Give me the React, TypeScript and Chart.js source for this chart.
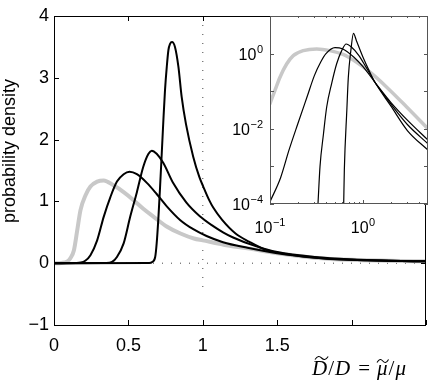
import React, { useEffect, useRef } from 'react';
import { Chart, registerables } from 'chart.js';
Chart.register(...registerables);

// ---------- main plot data (linear axes) ----------
const mainGrayX = [0, 0.05, 0.09, 0.11, 0.134, 0.156, 0.178, 0.212, 0.245, 0.29, 0.334, 0.4, 0.468, 0.535, 0.6, 0.67, 0.76, 0.85, 0.94, 1.0, 1.14, 1.3, 1.5, 1.75, 2.0, 2.25, 2.5];
const mainGrayY = [0, 0.005, 0.03, 0.08, 0.21, 0.53, 0.86, 1.1, 1.24, 1.32, 1.34, 1.26, 1.15, 1.02, 0.88, 0.75, 0.59, 0.48, 0.4, 0.37, 0.3, 0.24, 0.16, 0.09, 0.055, 0.04, 0.03];

const mainC1X = [0, 0.15, 0.18, 0.21, 0.245, 0.29, 0.334, 0.379, 0.423, 0.468, 0.508, 0.557, 0.624, 0.69, 0.758, 0.847, 0.936, 1.025, 1.136, 1.3, 1.5, 1.75, 2.0, 2.25, 2.5];
const mainC1Y = [0, 0.003, 0.01, 0.04, 0.13, 0.37, 0.75, 1.07, 1.32, 1.44, 1.48, 1.44, 1.3, 1.12, 0.92, 0.7, 0.55, 0.44, 0.34, 0.25, 0.16, 0.09, 0.055, 0.04, 0.03];

const mainC2X = [0, 0.35, 0.39, 0.423, 0.468, 0.512, 0.557, 0.6, 0.635, 0.657, 0.69, 0.735, 0.8, 0.89, 0.98, 1.07, 1.136, 1.2, 1.35, 1.5, 1.75, 2.0, 2.25, 2.5];
const mainC2Y = [0, 0.003, 0.02, 0.1, 0.32, 0.75, 1.15, 1.56, 1.77, 1.82, 1.77, 1.62, 1.3, 0.98, 0.76, 0.6, 0.5, 0.42, 0.28, 0.18, 0.1, 0.06, 0.04, 0.03];

const mainC3X = [0, 0.64, 0.66, 0.68, 0.69, 0.702, 0.713, 0.724, 0.735, 0.746, 0.758, 0.769, 0.78, 0.793, 0.813, 0.836, 0.858, 0.887, 0.936, 0.976, 1.003, 1.043, 1.07, 1.13, 1.22, 1.31, 1.42, 1.58, 1.8, 2.0, 2.25, 2.5];
const mainC3Y = [0, 0.003, 0.02, 0.1, 0.32, 0.75, 1.24, 1.77, 2.31, 2.8, 3.18, 3.45, 3.55, 3.58, 3.5, 3.18, 2.69, 2.25, 1.72, 1.4, 1.24, 1.02, 0.9, 0.7, 0.48, 0.35, 0.22, 0.14, 0.08, 0.055, 0.04, 0.03];

const mainXTicks = [0, 0.5, 1, 1.5, 2, 2.5];
const mainXTickLabels = ['0', '0.5', '1', '1.5', '', ''];
const mainYTicks = [-1, 0, 1, 2, 3, 4];
const refVX = [1, 1];
const refVY = [4, -0.5];
const refHX = [0, 2.5];
const refHY = [0, 0];

// ---------- inset data (log-log axes) ----------
const insGrayX = [0.1, 0.113, 0.128, 0.151, 0.178, 0.228, 0.318, 0.44, 0.61, 0.855, 1.19, 1.8, 2.95, 5.0];
const insGrayY = [0.047, 0.105, 0.236, 0.53, 0.885, 1.2, 1.33, 1.2, 0.95, 0.59, 0.32, 0.128, 0.038, 0.01];

const insC1X = [0.1, 0.13, 0.16, 0.2, 0.25, 0.3, 0.35, 0.4, 0.5, 0.6, 0.8, 1.0, 1.35, 2.0, 3.0, 5.0];
const insC1Y = [1.15e-4, 5e-4, 2.7e-3, 0.014, 0.07, 0.26, 0.59, 1.0, 1.45, 1.35, 0.8, 0.45, 0.17, 0.05, 0.017, 0.005];

const insC2X = [0.328, 0.345, 0.376, 0.407, 0.46, 0.52, 0.59, 0.66, 0.75, 0.9, 1.1, 1.35, 2.0, 3.0, 5.0];
const insC2Y = [1e-4, 1e-3, 7.4e-3, 0.038, 0.16, 0.53, 1.2, 1.8, 1.5, 0.9, 0.4, 0.17, 0.045, 0.013, 0.004];

const insC3X = [0.62, 0.63, 0.67, 0.695, 0.74, 0.79, 0.85, 1.0, 1.2, 1.35, 2.0, 3.0, 5.0];
const insC3Y = [1e-4, 8e-4, 0.031, 0.23, 1.2, 3.45, 2.2, 0.8, 0.3, 0.17, 0.04, 0.009, 0.0027];

const insXMajor = [0.1, 1];
const insXMajorExp = ['\u22121', '0'];
const insXMinor = [0.2, 0.3, 0.4, 0.5, 0.6, 0.7, 0.8, 0.9, 2, 3, 4];
const insYMajor = [1e-4, 1e-3, 1e-2, 1e-1, 1e0, 1e1];
const insYLabelled = [1e-4, 1e-2, 1e0];
const insYLabelExp = ['\u22124', '\u22122', '0'];

const GRAY = 'rgb(200,200,200)';
const SANS = '"Liberation Sans", Arial, Helvetica, sans-serif';
const SERIF = '"Liberation Serif", "Times New Roman", serif';
const pts = (xs: number[], ys: number[]) => xs.map((x, i) => ({ x, y: ys[i] }));

const lineDs = (label: string, data: any[], color: string, width: number, order: number, extra: any = {}) => ({
  label,
  data,
  borderColor: color,
  backgroundColor: color,
  borderWidth: width,
  pointRadius: 0,
  fill: false,
  cubicInterpolationMode: 'monotone',
  borderJoinStyle: 'round',
  borderCapStyle: 'round',
  clip: 0,
  order,
  ...extra,
});

const drawTilde = (ctx: CanvasRenderingContext2D, x0: number, x1: number, ym: number) => {
  const w = x1 - x0;
  ctx.beginPath();
  ctx.moveTo(x0, ym + 1.5);
  ctx.bezierCurveTo(x0 + w * 0.2, ym - 2.5, x0 + w * 0.35, ym - 2, x0 + w * 0.5, ym);
  ctx.bezierCurveTo(x0 + w * 0.65, ym + 2, x0 + w * 0.8, ym + 2.5, x1, ym - 1.5);
  ctx.stroke();
};

export default function App() {
  const mainRef = useRef<HTMLCanvasElement>(null);
  const insetRef = useRef<HTMLCanvasElement>(null);

  useEffect(() => {
    const mainDecor = {
      id: 'mainDecor',
      afterDraw(chart: any) {
        const { ctx, chartArea: a, scales } = chart;
        const xs = scales.x, ys = scales.y;
        ctx.save();
        ctx.strokeStyle = '#000';
        ctx.lineWidth = 1;
        ctx.strokeRect(Math.round(a.left) + 0.5, Math.round(a.top) + 0.5, Math.round(a.right - a.left) - 1, Math.round(a.bottom - a.top));
        ctx.beginPath();
        const tl = 5;
        mainXTicks.forEach((v) => {
          const px = Math.round(xs.getPixelForValue(v)) + 0.5;
          ctx.moveTo(px, a.bottom); ctx.lineTo(px, a.bottom - tl);
          ctx.moveTo(px, a.top); ctx.lineTo(px, a.top + tl);
        });
        mainYTicks.forEach((v) => {
          const py = Math.round(ys.getPixelForValue(v)) + 0.5;
          ctx.moveTo(a.left, py); ctx.lineTo(a.left + tl, py);
          ctx.moveTo(a.right, py); ctx.lineTo(a.right - tl, py);
        });
        ctx.stroke();
        // y title
        ctx.fillStyle = '#000';
        ctx.font = '18px ' + SANS;
        ctx.textAlign = 'center';
        ctx.textBaseline = 'middle';
        ctx.translate(10, 151);
        ctx.rotate(-Math.PI / 2);
        ctx.fillText('probability density', 0, 0);
        ctx.restore();

        // x title:  D~/D = mu~/mu
        ctx.save();
        ctx.fillStyle = '#000';
        ctx.strokeStyle = '#000';
        ctx.lineWidth = 1.1;
        ctx.textBaseline = 'alphabetic';
        ctx.textAlign = 'left';
        const base = 375;
        ctx.font = 'italic 21px ' + SERIF;
        let x = 312;
        const dW = ctx.measureText('D').width;
        ctx.fillText('D', x, base);
        drawTilde(ctx, x + 3, x + dW + 1, base - 17);
        x += dW + 1;
        ctx.font = '21px ' + SERIF;
        ctx.fillText('/', x, base);
        x += ctx.measureText('/').width + 1;
        ctx.font = 'italic 21px ' + SERIF;
        ctx.fillText('D', x, base);
        x += dW + 8;
        ctx.font = '21px ' + SERIF;
        ctx.fillText('=', x, base);
        x += ctx.measureText('=').width + 7;
        ctx.font = 'italic 21px ' + SERIF;
        const mW = ctx.measureText('\u03BC').width;
        ctx.fillText('\u03BC', x, base);
        drawTilde(ctx, x, x + mW + 1, base - 14);
        x += mW + 1;
        ctx.font = '21px ' + SERIF;
        ctx.fillText('/', x, base);
        x += ctx.measureText('/').width + 1;
        ctx.font = 'italic 21px ' + SERIF;
        ctx.fillText('\u03BC', x, base);
        ctx.restore();
      },
    };

    const main = new Chart(mainRef.current as HTMLCanvasElement, {
      type: 'line',
      data: {
        datasets: [
          lineDs('c3', pts(mainC3X, mainC3Y), '#000', 2, 1),
          lineDs('c2', pts(mainC2X, mainC2Y), '#000', 2, 2),
          lineDs('c1', pts(mainC1X, mainC1Y), '#000', 2, 3),
          lineDs('gray', pts(mainGrayX, mainGrayY), GRAY, 4, 4),
          lineDs('vref', pts(refVX, refVY), '#444', 1, 5, { borderDash: [1, 8], cubicInterpolationMode: 'default', borderCapStyle: 'butt' }),
          lineDs('href', pts(refHX, refHY), '#444', 1, 6, { borderDash: [1, 8], cubicInterpolationMode: 'default', borderCapStyle: 'butt' }),
        ] as any,
      },
      options: {
        animation: false,
        responsive: false,
        events: [],
        layout: { padding: { top: 16, right: 8, left: 0, bottom: 0 } },
        plugins: { legend: { display: false }, tooltip: { enabled: false } },
        scales: {
          x: {
            type: 'linear',
            min: 0,
            max: 2.5,
            afterBuildTicks: (s: any) => { s.ticks = mainXTicks.map((v) => ({ value: v })); },
            ticks: {
              autoSkip: false,
              maxRotation: 0,
              padding: 10,
              color: '#000',
              font: { family: SANS, size: 18 },
              callback: (v: any) => mainXTickLabels[mainXTicks.indexOf(Number(v))] ?? '',
            },
            grid: { display: false, drawTicks: false },
            border: { display: false },
            afterFit: (s: any) => { s.height = 57; },
          },
          y: {
            type: 'linear',
            min: -1,
            max: 4,
            afterBuildTicks: (s: any) => { s.ticks = mainYTicks.map((v) => ({ value: v })); },
            ticks: {
              padding: 5,
              color: '#000',
              font: { family: SANS, size: 18 },
              callback: (v: any) => (Number(v) < 0 ? '\u2212' + Math.abs(Number(v)) : String(v)),
            },
            grid: { display: false, drawTicks: false },
            border: { display: false },
            afterFit: (s: any) => { s.width = 54; },
          },
        },
      } as any,
      plugins: [mainDecor],
    });

    const drawPow = (ctx: CanvasRenderingContext2D, xLeft: number, baseY: number, exp: string) => {
      ctx.font = '16px ' + SANS;
      ctx.textAlign = 'left';
      ctx.textBaseline = 'alphabetic';
      ctx.fillText('10', xLeft, baseY);
      const w = ctx.measureText('10').width;
      ctx.font = '11px ' + SANS;
      ctx.fillText(exp, xLeft + w + 0.5, baseY - 7);
    };
    const powWidth = (ctx: CanvasRenderingContext2D, exp: string) => {
      ctx.font = '16px ' + SANS;
      const w1 = ctx.measureText('10').width;
      ctx.font = '11px ' + SANS;
      return w1 + 0.5 + ctx.measureText(exp).width;
    };

    const insetDecor = {
      id: 'insetDecor',
      beforeDatasetsDraw(chart: any) {
        const { ctx, chartArea: a } = chart;
        ctx.save();
        ctx.fillStyle = '#fff';
        ctx.fillRect(a.left, a.top, a.right - a.left, a.bottom - a.top);
        ctx.restore();
      },
      afterDraw(chart: any) {
        const { ctx, chartArea: a, scales } = chart;
        const xs = scales.x, ys = scales.y;
        ctx.save();
        ctx.strokeStyle = '#555';
        ctx.lineWidth = 1;
        ctx.strokeRect(Math.round(a.left) + 0.5, Math.round(a.top) + 0.5, Math.round(a.right - a.left) - 1, Math.round(a.bottom - a.top) - 1);
        ctx.beginPath();
        insXMajor.forEach((v) => {
          const px = Math.round(xs.getPixelForValue(v)) + 0.5;
          ctx.moveTo(px, a.bottom); ctx.lineTo(px, a.bottom - 4);
          ctx.moveTo(px, a.top); ctx.lineTo(px, a.top + 4);
        });
        insXMinor.forEach((v) => {
          const px = Math.round(xs.getPixelForValue(v)) + 0.5;
          ctx.moveTo(px, a.bottom); ctx.lineTo(px, a.bottom - 2);
          ctx.moveTo(px, a.top); ctx.lineTo(px, a.top + 2);
        });
        insYMajor.forEach((v) => {
          const py = Math.round(ys.getPixelForValue(v)) + 0.5;
          ctx.moveTo(a.left, py); ctx.lineTo(a.left + 4, py);
          ctx.moveTo(a.right, py); ctx.lineTo(a.right - 4, py);
        });
        ctx.stroke();
        ctx.fillStyle = '#000';
        insYLabelled.forEach((v, i) => {
          const py = ys.getPixelForValue(v);
          const w = powWidth(ctx, insYLabelExp[i]);
          drawPow(ctx, a.left - 7 - w, py + 6, insYLabelExp[i]);
        });
        insXMajor.forEach((v, i) => {
          const px = xs.getPixelForValue(v);
          const w = powWidth(ctx, insXMajorExp[i]);
          drawPow(ctx, px - w / 2, a.bottom + 29, insXMajorExp[i]);
        });
        ctx.restore();
      },
    };

    const inset = new Chart(insetRef.current as HTMLCanvasElement, {
      type: 'line',
      data: {
        datasets: [
          lineDs('c3', pts(insC3X, insC3Y), '#000', 1.2, 1),
          lineDs('c2', pts(insC2X, insC2Y), '#000', 1.2, 2),
          lineDs('c1', pts(insC1X, insC1Y), '#000', 1.2, 3),
          lineDs('gray', pts(insGrayX, insGrayY), GRAY, 3.5, 4),
        ] as any,
      },
      options: {
        animation: false,
        responsive: false,
        events: [],
        layout: { padding: { left: 50, right: 8, top: 16, bottom: 36 } },
        plugins: { legend: { display: false }, tooltip: { enabled: false } },
        scales: {
          x: { type: 'logarithmic', min: 0.1, max: 5, display: false },
          y: { type: 'logarithmic', min: 1e-4, max: 10, display: false },
        },
      } as any,
      plugins: [insetDecor],
    });

    return () => {
      main.destroy();
      inset.destroy();
    };
  }, []);

  return (
    <div style={{ position: 'absolute', left: 0, top: 0, width: 436, height: 382, background: '#fff' }}>
      <canvas ref={mainRef} width={436} height={382} style={{ position: 'absolute', left: 0, top: 0, width: 436, height: 382 }} />
      <canvas ref={insetRef} width={216} height={240} style={{ position: 'absolute', left: 220, top: 0, width: 216, height: 240 }} />
    </div>
  );
}
